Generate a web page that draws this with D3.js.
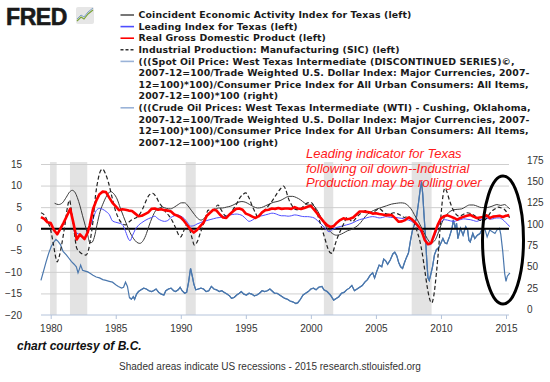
<!DOCTYPE html>
<html><head><meta charset="utf-8">
<script src="https://cdn.jsdelivr.net/npm/d3@7"></script>
<style>
body{margin:0;background:#fff;}
svg{display:block;}
</style></head>
<body>
<svg id="chart" width="550" height="382"></svg>
<script>
// ---------------- DATA ----------------
const legendLabels = [
  "Coincident Economic Activity Index for Texas (left)",
  "Leading Index for Texas (left)",
  "Real Gross Domestic Product (left)",
  "Industrial Production: Manufacturing (SIC) (left)",
  "(((Spot Oil Price: West Texas Intermediate (DISCONTINUED SERIES)©,",
  "2007-12=100/Trade Weighted U.S. Dollar Index: Major Currencies, 2007-",
  "12=100)*100)/Consumer Price Index for All Urban Consumers: All Items,",
  "2007-12=100)*100 (right)",
  "(((Crude Oil Prices: West Texas Intermediate (WTI) - Cushing, Oklahoma,",
  "2007-12=100/Trade Weighted U.S. Dollar Index: Major Currencies, 2007-",
  "12=100)*100)/Consumer Price Index for All Urban Consumers: All Items,",
  "2007-12=100)*100 (right)"
];
const xTicks = [1980, 1985, 1990, 1995, 2000, 2005, 2010, 2015];
const leftTicks = [-20, -15, -10, -5, 0, 5, 10, 15];
const rightTicks = [0, 25, 50, 75, 100, 125, 150, 175];
const recessions = [[1979.95, 1980.46], [1981.48, 1982.81], [1990.38, 1991.15], [2001.0, 2001.72], [2007.75, 2009.28]];
const annotationLines = ["Leading indicator for Texas", "following oil down--Industrial", "Production may be rolling over"];

// Real GDP, % change from year ago (left)
const gdp = [[1979.25,2.7],[1979.5,2.3],[1979.75,1.5],[1980,1.3],[1980.25,-0.3],[1980.5,-1.3],[1980.75,0.0],[1981,1.4],[1981.25,3.0],[1981.5,4.6],[1981.75,1.3],[1982,-2.5],[1982.25,-1.3],[1982.6,-2.4],[1982.85,-0.8],[1983,0.8],[1983.25,4.5],[1983.5,6.5],[1983.75,8.0],[1984,8.6],[1984.25,8.5],[1984.5,7.2],[1984.75,6.0],[1985,5.2],[1985.25,4.3],[1985.5,4.5],[1985.75,4.4],[1986,4.2],[1986.25,4.1],[1986.5,3.5],[1986.75,2.9],[1987,3.0],[1987.25,3.4],[1987.5,3.8],[1987.75,4.6],[1988,4.7],[1988.25,4.4],[1988.5,4.5],[1988.75,4.3],[1989,4.2],[1989.25,4.0],[1989.5,3.3],[1989.75,3.0],[1990,2.6],[1990.25,1.8],[1990.5,0.8],[1990.75,-0.2],[1991,-0.9],[1991.25,-0.3],[1991.5,0.6],[1991.75,1.4],[1992,3.0],[1992.25,3.7],[1992.5,4.4],[1992.75,4.2],[1993,3.3],[1993.25,2.6],[1993.5,2.5],[1993.75,3.3],[1994,4.0],[1994.25,4.6],[1994.5,4.7],[1994.75,4.4],[1995,3.5],[1995.25,3.2],[1995.5,2.8],[1995.75,2.5],[1996,2.9],[1996.25,3.8],[1996.5,4.3],[1996.75,4.4],[1997,4.7],[1997.25,4.6],[1997.5,4.8],[1997.75,4.6],[1998,4.7],[1998.25,4.7],[1998.5,4.6],[1998.75,5.0],[1999,4.7],[1999.25,4.6],[1999.5,4.8],[1999.75,5.1],[2000,5.3],[2000.25,4.4],[2000.5,3.5],[2000.75,2.5],[2001,1.6],[2001.25,0.8],[2001.5,0.4],[2001.75,0.6],[2002,1.4],[2002.25,2.0],[2002.5,2.4],[2002.75,2.2],[2003,2.3],[2003.25,2.6],[2003.5,3.3],[2003.75,4.0],[2004,4.0],[2004.25,3.9],[2004.5,3.8],[2004.75,3.5],[2005,3.6],[2005.25,3.4],[2005.5,3.3],[2005.75,3.1],[2006,3.2],[2006.25,3.1],[2006.5,2.4],[2006.75,1.6],[2007,1.7],[2007.25,2.0],[2007.5,2.6],[2007.75,2.2],[2008,1.5],[2008.25,0.6],[2008.5,-0.4],[2008.75,-2.6],[2009,-3.6],[2009.25,-3.3],[2009.5,-1.2],[2009.75,0.9],[2010,2.4],[2010.25,2.9],[2010.5,3.1],[2010.75,2.8],[2011,2.5],[2011.25,2.1],[2011.5,2.5],[2011.75,2.8],[2012,3.0],[2012.25,3.2],[2012.5,2.8],[2012.75,2.5],[2013,2.6],[2013.25,2.7],[2013.5,3.1],[2013.75,2.5],[2014,2.8],[2014.25,2.9],[2014.5,3.0],[2014.75,2.7],[2015,3.0],[2015.25,3.1]];

// Leading Index for Texas (left)
const leading = [[1981.75,-0.5],[1982,-1.0],[1982.25,-1.4],[1982.5,-2.2],[1982.75,-1.5],[1983,0.3],[1983.25,2.2],[1983.5,4.2],[1983.75,4.7],[1984,4.5],[1984.25,4.0],[1984.5,3.3],[1984.75,1.8],[1985,1.5],[1985.25,1.3],[1985.5,1.0],[1985.75,-0.6],[1986,-2.5],[1986.1,-2.8],[1986.3,-1.5],[1986.5,-0.2],[1986.75,0.8],[1987,1.4],[1987.25,1.9],[1987.5,2.3],[1987.75,2.6],[1988,2.9],[1988.25,2.3],[1988.5,1.9],[1988.75,1.7],[1989,1.9],[1989.25,2.6],[1989.5,3.0],[1989.75,3.2],[1990,2.9],[1990.25,2.4],[1990.5,1.5],[1990.75,0.6],[1991,0.7],[1991.25,1.1],[1991.5,1.4],[1991.75,1.7],[1992,1.9],[1992.25,2.1],[1992.5,2.3],[1992.75,2.5],[1993,2.6],[1993.25,2.8],[1993.5,3.0],[1993.75,3.2],[1994,3.3],[1994.25,3.4],[1994.5,3.3],[1994.75,3.0],[1995,2.3],[1995.25,1.7],[1995.5,2.0],[1995.75,2.5],[1996,2.9],[1996.25,3.0],[1996.5,3.2],[1996.75,3.4],[1997,3.6],[1997.25,3.5],[1997.5,3.2],[1997.75,3.0],[1998,3.0],[1998.25,2.9],[1998.5,3.0],[1998.75,3.2],[1999,3.1],[1999.25,2.9],[1999.5,2.8],[1999.75,2.8],[2000,2.7],[2000.25,2.5],[2000.5,1.9],[2000.75,1.2],[2001,0.4],[2001.25,-0.4],[2001.4,-0.7],[2001.6,-0.3],[2001.85,0.1],[2002,0.3],[2002.25,0.5],[2002.5,0.7],[2002.75,0.9],[2003,1.1],[2003.25,1.4],[2003.5,1.8],[2003.75,2.1],[2004,2.3],[2004.25,2.5],[2004.5,2.7],[2004.75,2.8],[2005,2.7],[2005.25,2.5],[2005.5,2.6],[2005.75,2.8],[2006,2.7],[2006.25,2.6],[2006.5,2.6],[2006.75,2.5],[2007,2.4],[2007.25,2.2],[2007.5,2.0],[2007.75,1.7],[2008,1.1],[2008.25,0.3],[2008.5,-1.0],[2008.75,-2.2],[2009,-3.3],[2009.15,-3.8],[2009.4,-2.5],[2009.6,-1.0],[2009.8,0.6],[2010,1.5],[2010.25,2.1],[2010.5,2.0],[2010.75,1.8],[2011,1.7],[2011.25,1.9],[2011.5,2.1],[2011.75,2.3],[2012,2.2],[2012.25,2.1],[2012.5,1.9],[2012.75,1.7],[2013,2.0],[2013.25,2.3],[2013.5,2.5],[2013.75,2.2],[2014,2.3],[2014.25,2.5],[2014.5,2.5],[2014.75,2.1],[2015,1.4],[2015.15,0.9],[2015.3,0.5]];

// Coincident Economic Activity Index for Texas (left)
const coincident = [[1980.3,5.9],[1980.6,5.6],[1980.9,6.0],[1981.2,7.3],[1981.45,8.5],[1981.65,8.9],[1981.85,8.5],[1982.05,7.2],[1982.25,5.3],[1982.45,3.0],[1982.65,0.8],[1982.85,-1.5],[1983,-3.2],[1983.15,-3.2],[1983.35,-2.0],[1983.55,0.8],[1983.8,4.0],[1984.05,6.0],[1984.3,7.6],[1984.6,8.6],[1984.85,8.1],[1985.1,6.9],[1985.35,4.8],[1985.6,2.8],[1985.85,0.9],[1986.1,-0.9],[1986.35,-2.2],[1986.6,-3.1],[1986.85,-3.4],[1987.05,-3.0],[1987.3,-1.6],[1987.55,0.6],[1987.8,2.6],[1988.05,4.1],[1988.35,4.8],[1988.6,5.0],[1988.9,4.7],[1989.2,4.6],[1989.5,5.0],[1989.8,5.6],[1990.05,6.0],[1990.3,6.0],[1990.55,5.3],[1990.8,4.3],[1991.05,3.3],[1991.3,2.4],[1991.55,2.0],[1991.8,2.4],[1992.05,3.3],[1992.3,4.0],[1992.6,4.5],[1992.9,4.8],[1993.2,4.8],[1993.5,5.0],[1993.8,5.2],[1994.1,5.6],[1994.4,6.1],[1994.7,6.3],[1995,6.1],[1995.3,5.6],[1995.6,5.1],[1995.9,4.8],[1996.2,4.9],[1996.5,5.3],[1996.8,5.7],[1997.1,6.1],[1997.4,6.3],[1997.7,6.6],[1998,7.1],[1998.3,7.5],[1998.6,7.5],[1998.9,7.2],[1999.2,6.7],[1999.5,6.0],[1999.8,5.5],[2000.1,5.5],[2000.4,4.7],[2000.65,3.4],[2000.9,1.9],[2001.15,0.6],[2001.4,-0.4],[2001.65,-1.1],[2001.95,-1.5],[2002.2,-1.4],[2002.5,-1.0],[2002.8,-0.5],[2003.1,-0.2],[2003.4,0.3],[2003.7,1.0],[2003.95,1.9],[2004.2,2.9],[2004.5,3.7],[2004.8,4.2],[2005.1,4.6],[2005.4,4.9],[2005.8,5.3],[2006.2,5.7],[2006.6,5.9],[2006.9,6.0],[2007.2,5.9],[2007.45,5.4],[2007.7,4.6],[2007.95,3.3],[2008.2,2.0],[2008.45,0.6],[2008.7,-0.9],[2008.95,-2.3],[2009.2,-3.2],[2009.45,-3.0],[2009.7,-1.7],[2009.95,0.4],[2010.2,2.2],[2010.45,3.3],[2010.7,4.0],[2011,4.4],[2011.3,4.5],[2011.6,4.6],[2011.9,5.1],[2012.2,5.5],[2012.5,5.5],[2012.8,5.2],[2013.1,4.9],[2013.4,4.9],[2013.7,5.0],[2014,5.3],[2014.3,5.6],[2014.6,5.4],[2014.9,5.6],[2015.1,5.1],[2015.3,4.6]];

// Industrial Production: Manufacturing (SIC), % change from year ago (left)
const industrial = [[1979.25,3.7],[1979.5,3.2],[1979.75,1.8],[1980,-0.3],[1980.2,-3.5],[1980.4,-6.8],[1980.5,-7.7],[1980.65,-6.5],[1980.85,-3.6],[1981.1,1.0],[1981.3,5.2],[1981.45,6.6],[1981.6,4.0],[1981.8,-0.5],[1982,-4.5],[1982.2,-5.3],[1982.45,-5.9],[1982.7,-6.1],[1982.9,-5.0],[1983.05,-2.5],[1983.25,1.7],[1983.45,7.8],[1983.65,11.5],[1983.85,13.5],[1984,13.8],[1984.2,12.8],[1984.45,10.6],[1984.7,7.5],[1984.95,4.5],[1985.2,2.5],[1985.5,1.2],[1985.75,0.9],[1986,1.5],[1986.3,2.2],[1986.6,2.6],[1986.85,3.4],[1987.1,4.8],[1987.35,6.6],[1987.6,7.9],[1987.85,8.2],[1988.1,7.4],[1988.35,6.0],[1988.6,5.0],[1988.85,3.8],[1989.1,3.0],[1989.35,1.8],[1989.6,0.2],[1989.85,-1.5],[1990,-1.9],[1990.2,-0.7],[1990.45,0.9],[1990.65,0.1],[1990.85,-2.0],[1991.05,-3.8],[1991.3,-2.8],[1991.5,-1.0],[1991.7,0.7],[1991.9,2.5],[1992.1,4.3],[1992.35,4.1],[1992.6,4.6],[1992.85,5.5],[1993.1,4.4],[1993.35,3.2],[1993.55,2.8],[1993.8,3.4],[1994.05,4.6],[1994.3,5.8],[1994.55,7.2],[1994.8,8.0],[1995,8.3],[1995.25,7.1],[1995.5,5.2],[1995.75,3.6],[1995.95,2.5],[1996.15,3.4],[1996.4,4.2],[1996.65,5.0],[1996.9,5.9],[1997.15,7.0],[1997.4,8.2],[1997.65,9.2],[1997.9,9.9],[1998.05,9.2],[1998.25,7.2],[1998.5,5.6],[1998.75,4.6],[1999,4.4],[1999.25,4.7],[1999.5,5.4],[1999.75,6.0],[2000,6.1],[2000.25,5.2],[2000.45,3.8],[2000.7,1.5],[2000.9,-0.5],[2001.1,-2.5],[2001.3,-4.5],[2001.5,-5.6],[2001.65,-5.7],[2001.85,-3.8],[2002.05,-2.0],[2002.3,-0.3],[2002.55,1.3],[2002.8,2.7],[2003,2.1],[2003.2,1.6],[2003.4,2.2],[2003.7,3.2],[2004,3.8],[2004.2,4.2],[2004.45,3.7],[2004.7,3.8],[2004.95,4.1],[2005.25,4.7],[2005.5,4.1],[2005.75,3.5],[2006.05,3.3],[2006.35,3.7],[2006.65,3.5],[2006.9,3.1],[2007.2,2.6],[2007.45,2.8],[2007.7,2.4],[2007.95,1.4],[2008.15,-0.5],[2008.35,-2.5],[2008.55,-5.5],[2008.75,-9.5],[2008.95,-13.6],[2009.15,-16.5],[2009.3,-17.2],[2009.45,-15.5],[2009.65,-10.3],[2009.85,-3.5],[2010,3.0],[2010.15,7.5],[2010.3,9.4],[2010.45,8.6],[2010.65,6.6],[2010.9,4.6],[2011.15,3.4],[2011.4,2.9],[2011.7,3.3],[2012,3.7],[2012.3,3.5],[2012.6,3.0],[2012.85,2.2],[2013.1,1.9],[2013.35,2.0],[2013.6,2.8],[2013.85,3.9],[2014.1,4.5],[2014.4,5.0],[2014.65,4.8],[2014.9,4.4],[2015.1,3.6],[2015.3,2.3]];

// Real oil price index, 2007-12=100 (right)
const oilSpot = [[1979.25,34],[1979.45,45],[1979.65,56],[1979.85,66],[1980.05,74],[1980.25,79],[1980.4,82],[1980.55,80],[1980.75,76],[1980.95,68],[1981.2,64],[1981.4,60],[1981.6,56],[1981.8,53],[1981.97,50],[1982.1,43],[1982.2,47],[1982.3,52],[1982.45,46],[1982.65,45],[1982.85,44],[1983.05,42],[1983.25,40],[1983.5,38],[1983.75,37],[1984,35],[1984.25,34],[1984.5,33],[1984.75,32],[1985,29],[1985.2,27],[1985.45,25],[1985.6,26],[1985.75,32],[1985.9,27],[1986.05,14],[1986.2,12],[1986.35,15],[1986.45,12],[1986.6,18],[1986.75,21],[1986.95,23],[1987.15,25],[1987.35,24],[1987.55,22],[1987.75,21],[1987.9,22],[1988.1,24],[1988.3,20],[1988.5,18],[1988.7,17],[1988.85,22],[1989.05,24],[1989.25,25],[1989.45,22],[1989.6,21],[1989.8,23],[1989.95,26],[1990.1,22],[1990.3,19],[1990.45,20],[1990.6,32],[1990.75,48],[1990.9,38],[1991,30],[1991.15,23],[1991.35,24],[1991.55,25],[1991.75,24],[1991.95,21],[1992.15,22],[1992.35,27],[1992.55,24],[1992.75,23],[1992.95,21],[1993.15,22],[1993.35,20],[1993.55,18],[1993.75,16],[1993.9,13],[1994.1,14],[1994.3,17],[1994.5,19],[1994.65,21],[1994.85,18],[1995.05,17],[1995.25,19],[1995.45,18],[1995.65,16],[1995.85,17],[1996.05,19],[1996.25,22],[1996.45,21],[1996.65,22],[1996.85,24],[1997,22],[1997.2,19],[1997.4,19],[1997.6,17],[1997.8,15],[1998,13],[1998.2,12],[1998.4,10],[1998.6,9],[1998.85,7],[1999,8],[1999.2,12],[1999.4,17],[1999.6,19],[1999.8,21],[2000,24],[2000.2,25],[2000.4,23],[2000.6,26],[2000.85,27],[2001,23],[2001.25,21],[2001.5,17],[2001.75,11],[2001.95,13],[2002.15,15],[2002.35,19],[2002.55,20],[2002.75,23],[2002.95,25],[2003.15,28],[2003.35,22],[2003.55,24],[2003.75,26],[2003.95,28],[2004.15,32],[2004.35,35],[2004.55,40],[2004.75,43],[2004.9,37],[2005.05,44],[2005.25,52],[2005.45,50],[2005.6,59],[2005.75,57],[2005.9,53],[2006.1,58],[2006.3,65],[2006.45,67],[2006.6,63],[2006.75,55],[2006.9,50],[2007.05,48],[2007.2,55],[2007.35,61],[2007.5,66],[2007.65,80],[2007.8,92],[2007.95,99],[2008.1,106],[2008.25,122],[2008.4,140],[2008.5,150],[2008.6,135],[2008.7,110],[2008.8,88],[2008.9,60],[2009,37],[2009.1,34],[2009.2,40],[2009.35,50],[2009.5,64],[2009.65,70],[2009.8,72],[2009.95,76],[2010.15,83],[2010.3,78],[2010.45,77],[2010.65,85],[2010.85,95],[2010.95,105],[2011.1,95],[2011.2,101],[2011.3,83],[2011.5,95],[2011.7,87],[2011.9,97],[2012.05,93],[2012.15,81],[2012.25,79],[2012.45,89],[2012.6,83],[2012.8,87],[2013,89],[2013.2,95],[2013.4,93]];
const oilCrude = [[1986.05,14],[1986.2,12],[1986.35,15],[1986.45,12],[1986.6,18],[1986.75,21],[1986.95,23],[1987.15,25],[1987.35,24],[1987.55,22],[1987.75,21],[1987.9,22],[1988.1,24],[1988.3,20],[1988.5,18],[1988.7,17],[1988.85,22],[1989.05,24],[1989.25,25],[1989.45,22],[1989.6,21],[1989.8,23],[1989.95,26],[1990.1,22],[1990.3,19],[1990.45,20],[1990.6,32],[1990.75,48],[1990.9,38],[1991,30],[1991.15,23],[1991.35,24],[1991.55,25],[1991.75,24],[1991.95,21],[1992.15,22],[1992.35,27],[1992.55,24],[1992.75,23],[1992.95,21],[1993.15,22],[1993.35,20],[1993.55,18],[1993.75,16],[1993.9,13],[1994.1,14],[1994.3,17],[1994.5,19],[1994.65,21],[1994.85,18],[1995.05,17],[1995.25,19],[1995.45,18],[1995.65,16],[1995.85,17],[1996.05,19],[1996.25,22],[1996.45,21],[1996.65,22],[1996.85,24],[1997,22],[1997.2,19],[1997.4,19],[1997.6,17],[1997.8,15],[1998,13],[1998.2,12],[1998.4,10],[1998.6,9],[1998.85,7],[1999,8],[1999.2,12],[1999.4,17],[1999.6,19],[1999.8,21],[2000,24],[2000.2,25],[2000.4,23],[2000.6,26],[2000.85,27],[2001,23],[2001.25,21],[2001.5,17],[2001.75,11],[2001.95,13],[2002.15,15],[2002.35,19],[2002.55,20],[2002.75,23],[2002.95,25],[2003.15,28],[2003.35,22],[2003.55,24],[2003.75,26],[2003.95,28],[2004.15,32],[2004.35,35],[2004.55,40],[2004.75,43],[2004.9,37],[2005.05,44],[2005.25,52],[2005.45,50],[2005.6,59],[2005.75,57],[2005.9,53],[2006.1,58],[2006.3,65],[2006.45,67],[2006.6,63],[2006.75,55],[2006.9,50],[2007.05,48],[2007.2,55],[2007.35,61],[2007.5,66],[2007.65,80],[2007.8,92],[2007.95,99],[2008.1,106],[2008.25,122],[2008.4,140],[2008.5,150],[2008.6,135],[2008.7,110],[2008.8,88],[2008.9,60],[2009,37],[2009.1,34],[2009.2,40],[2009.35,50],[2009.5,64],[2009.65,70],[2009.8,72],[2009.95,76],[2010.15,83],[2010.3,78],[2010.45,77],[2010.65,85],[2010.85,95],[2010.95,105],[2011.1,95],[2011.2,101],[2011.3,83],[2011.5,95],[2011.7,87],[2011.9,97],[2012.05,93],[2012.15,81],[2012.25,79],[2012.45,89],[2012.6,83],[2012.8,87],[2013,89],[2013.2,95],[2013.4,93],[2013.55,85],[2013.75,93],[2013.95,91],[2014.15,89],[2014.3,93],[2014.5,95],[2014.6,88],[2014.75,68],[2014.9,42],[2015,33],[2015.1,39],[2015.3,43]];

// ---------------- DRAW ----------------
const svg = d3.select("#chart");
const plotL = 41, plotR = 509, plotT = 162, plotB = 315;

const x = d3.scaleLinear().domain([1980, 2015]).range([50.7, 506]);
const yL = d3.scaleLinear().domain([-20, 15]).range([315, 164]);
const yR = d3.scaleLinear().domain([0, 175]).range([309.5, 160]);

svg.append("rect").attr("width", 550).attr("height", 382).attr("fill", "#fff");

// FRED logo
svg.append("text").attr("x", 6).attr("y", 24.5)
  .attr("font-family", "Liberation Sans, Arial, sans-serif").attr("font-weight", "bold")
  .attr("font-size", 23).attr("letter-spacing", -0.4).attr("fill", "#1a1a1a")
  .attr("stroke", "#1a1a1a").attr("stroke-width", 0.6).text("FRED");
const logo = svg.append("g").attr("transform", "translate(76,7)");
logo.append("rect").attr("width", 18).attr("height", 17).attr("rx", 2).attr("fill", "#e6e6e6");
logo.append("polyline").attr("points", "1,14 5,10 8,12 12,7 17,3").attr("fill", "none").attr("stroke", "#7aa33a").attr("stroke-width", 1.2);
logo.append("polyline").attr("points", "1,12 5,8 8,10 12,5 17,1").attr("fill", "none").attr("stroke", "#7ea0c8").attr("stroke-width", 1);

// Legend
const legendStyles = [
  {c: "#555555", dash: null},
  {c: "#4d4dff", dash: null},
  {c: "#ff0000", dash: null},
  {c: "#333333", dash: "3,2"},
  {c: "#9ab3d8", dash: null},
  null, null, null,
  {c: "#9ab3d8", dash: null},
  null, null, null
];
const lg = svg.append("g");
legendLabels.forEach((t, i) => {
  const yy = 15 + i * 11.6;
  const st = legendStyles[i];
  if (st) {
    lg.append("line").attr("x1", 120.5).attr("x2", 134).attr("y1", yy).attr("y2", yy)
      .attr("stroke", st.c).attr("stroke-width", 1.6).attr("stroke-dasharray", st.dash);
  }
  lg.append("text").attr("x", 138.5).attr("y", yy).attr("dy", "0.35em")
    .attr("font-family", "DejaVu Sans, Verdana, sans-serif").attr("font-weight", "bold")
    .attr("font-size", 9.4).attr("letter-spacing", 0.12).attr("fill", "#1a1a1a").text(t);
});

// Recession bands
svg.append("g").selectAll("rect").data(recessions).join("rect")
  .attr("x", d => x(d[0])).attr("width", d => x(d[1]) - x(d[0]))
  .attr("y", plotT).attr("height", plotB - plotT).attr("fill", "#e3e3e3");

// Gridlines + left axis
const gridAxis = d3.axisLeft(yL).tickValues(leftTicks.filter(v => v > -20)).tickSize(-(plotR - plotL)).tickFormat("");
const gG = svg.append("g").attr("transform", `translate(${plotL},0)`).call(gridAxis);
gG.select(".domain").remove();
gG.selectAll(".tick line").attr("stroke", "#cfcfcf").attr("stroke-width", 1);

const leftAxis = d3.axisLeft(yL).tickValues(leftTicks).tickSize(0).tickPadding(19);
const lA = svg.append("g").attr("transform", `translate(${plotL},0)`).call(leftAxis);
lA.select(".domain").remove();
lA.selectAll("text").attr("font-family", "Liberation Sans, Arial, sans-serif").attr("font-size", 10).attr("fill", "#333");

const rightAxis = d3.axisRight(yR).tickValues(rightTicks).tickSize(0).tickPadding(18);
const rA = svg.append("g").attr("transform", `translate(${plotR},0)`).call(rightAxis);
rA.select(".domain").remove();
rA.selectAll("text").attr("font-family", "Liberation Sans, Arial, sans-serif").attr("font-size", 10).attr("fill", "#333");

// X axis
svg.append("line").attr("x1", plotL).attr("x2", plotR).attr("y1", plotB).attr("y2", plotB)
  .attr("stroke", "#b4c3da").attr("stroke-width", 1);
const xAxis = d3.axisBottom(x).tickValues(xTicks).tickFormat(d3.format("d")).tickSize(4).tickPadding(6);
const xA = svg.append("g").attr("transform", `translate(0,${plotB})`).call(xAxis);
xA.select(".domain").remove();
xA.selectAll(".tick line").attr("stroke", "#b4c3da");
xA.selectAll("text").attr("font-family", "Liberation Sans, Arial, sans-serif").attr("font-size", 10).attr("fill", "#333");

// Series
const lineL = (curve) => d3.line().x(d => x(d[0])).y(d => yL(d[1])).curve(curve);
const lineR = d3.line().x(d => x(d[0])).y(d => yR(d[1]));

const series = svg.append("g").attr("fill", "none");
series.append("path").attr("d", lineR(oilSpot)).attr("stroke", "#4a77ad").attr("stroke-width", 1.2);
series.append("path").attr("d", lineR(oilCrude)).attr("stroke", "#4a77ad").attr("stroke-width", 1.2);

// zero line
svg.append("line").attr("x1", plotL).attr("x2", plotR).attr("y1", yL(0)).attr("y2", yL(0))
  .attr("stroke", "#000").attr("stroke-width", 2);

const series2 = svg.append("g").attr("fill", "none");
series2.append("path").attr("d", lineL(d3.curveMonotoneX)(coincident)).attr("stroke", "#3a3a3a").attr("stroke-width", 1);
series2.append("path").attr("d", lineL(d3.curveMonotoneX)(leading)).attr("stroke", "#4d4dff").attr("stroke-width", 1);
series2.append("path").attr("d", lineL(d3.curveMonotoneX)(industrial)).attr("stroke", "#222").attr("stroke-width", 1.2).attr("stroke-dasharray", "4,2.5");
series2.append("path").attr("d", lineL(d3.curveLinear)(gdp)).attr("stroke", "#ff0000").attr("stroke-width", 2.6).attr("stroke-linejoin", "round");

// Annotation
const ann = svg.append("text").attr("font-family", "Liberation Sans, Arial, sans-serif")
  .attr("font-style", "italic").attr("font-size", 13).attr("fill", "#ff1a1a");
annotationLines.forEach((t, i) => {
  ann.append("tspan").attr("x", 306).attr("y", 158 + i * 14.5).text(t);
});
svg.append("ellipse").attr("cx", 503).attr("cy", 240).attr("rx", 20.5).attr("ry", 64)
  .attr("fill", "none").attr("stroke", "#000").attr("stroke-width", 3);

// Footer
svg.append("text").attr("x", 17).attr("y", 350)
  .attr("font-family", "Liberation Sans, Arial, sans-serif").attr("font-style", "italic").attr("font-weight", "bold")
  .attr("font-size", 12).attr("fill", "#111").text("chart courtesy of B.C.");
svg.append("text").attr("x", 270).attr("y", 370).attr("text-anchor", "middle")
  .attr("font-family", "Liberation Sans, Arial, sans-serif").attr("font-size", 10).attr("fill", "#333")
  .text("Shaded areas indicate US recessions - 2015 research.stlouisfed.org");
</script>
</body></html>
